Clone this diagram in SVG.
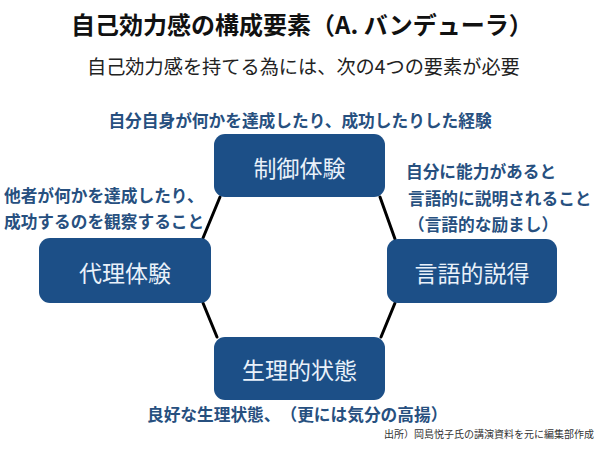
<svg xmlns="http://www.w3.org/2000/svg" width="600" height="450" viewBox="0 0 600 450">
<style>
text{font-family:"Noto Sans CJK JP","Noto Sans",sans-serif;text-spacing-trim:space-all;}
.title{font-size:24px;font-weight:bold;fill:#111;}
.sub{font-size:19.2px;fill:#222;}
.box{fill:#1c4f87;}
.lbl{font-size:23px;fill:#e9f1fa;text-anchor:middle;dominant-baseline:central;}
.note{font-size:16.7px;font-weight:bold;fill:#27507f;}
.src{font-size:10px;fill:#333;}
.conn line{stroke:#000;stroke-width:3;stroke-linecap:round;}
</style>
<rect width="600" height="450" fill="#fff"/>
<text class="title" x="71" y="34">自己効力感の構成要素（A. バンデューラ）</text>
<text class="sub" x="87" y="74">自己効力感を持てる為には、次の4つの要素が必要</text>
<g class="conn" id="connectors">
<line x1="220" y1="197" x2="203" y2="238"/>
<line x1="380" y1="197" x2="395" y2="239"/>
<line x1="203" y1="303" x2="217" y2="337"/>
<line x1="395" y1="303" x2="381" y2="337"/>
</g>
<g id="node-seigyo">
<rect class="box" x="214" y="134" width="171" height="63" rx="11"/>
<text class="lbl" x="299.5" y="167">制御体験</text>
</g>
<g id="node-dairi">
<rect class="box" x="39" y="238" width="172" height="65" rx="11"/>
<text class="lbl" x="125" y="272">代理体験</text>
</g>
<g id="node-gengo">
<rect class="box" x="387" y="239" width="170" height="64" rx="11"/>
<text class="lbl" x="472" y="272">言語的説得</text>
</g>
<g id="node-seiri">
<rect class="box" x="214" y="337" width="171" height="63" rx="11"/>
<text class="lbl" x="299.5" y="369">生理的状態</text>
</g>
<text class="note" x="300" y="127" text-anchor="middle">自分自身が何かを達成したり、成功したりした経験</text>
<text class="note" x="4" y="202">他者が何かを達成したり、</text>
<text class="note" x="4" y="228">成功するのを観察すること</text>
<text class="note" x="406" y="178">自分に能力があると</text>
<text class="note" x="408" y="205">言語的に説明されること</text>
<text class="note" x="408" y="231">（言語的な励まし）</text>
<text class="note" x="147" y="421">良好な生理状態、（更には気分の高揚）</text>
<text class="src" x="594" y="438" text-anchor="end">出所）岡島悦子氏の講演資料を元に編集部作成</text>
</svg>
